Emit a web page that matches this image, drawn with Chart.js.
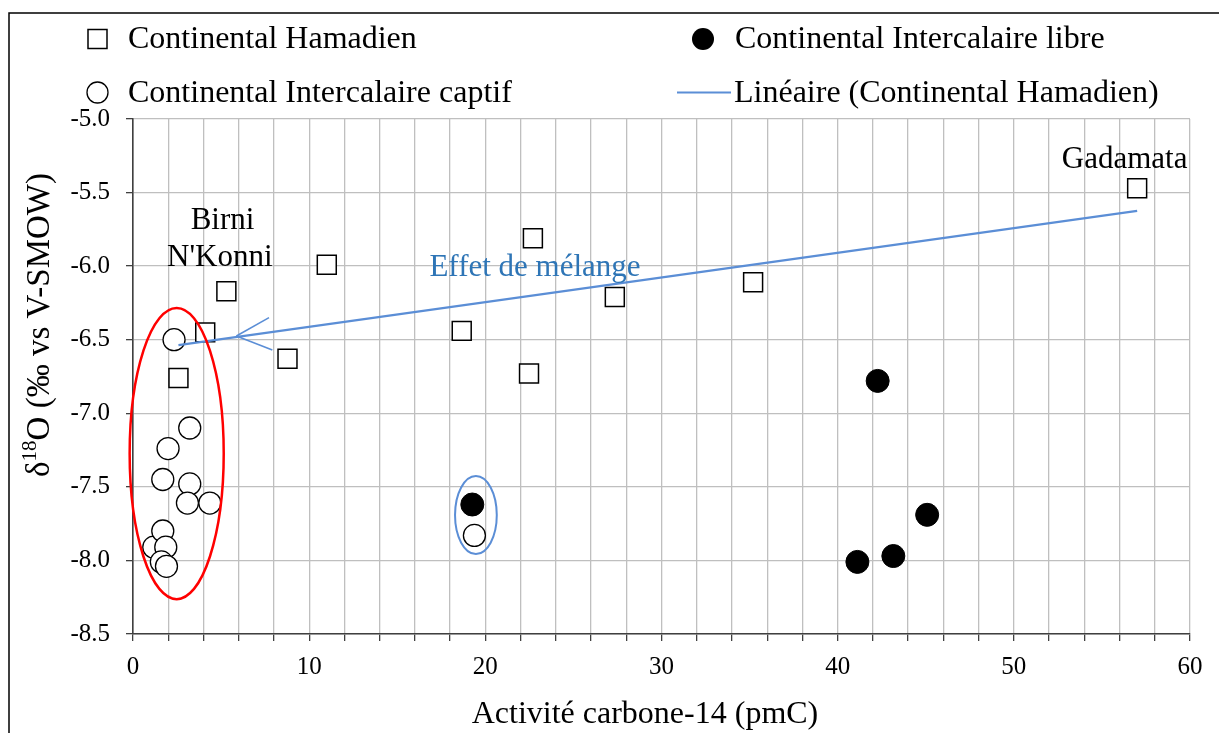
<!DOCTYPE html>
<html>
<head>
<meta charset="utf-8">
<script src="https://cdn.jsdelivr.net/npm/chart.js@4.4.1/dist/chart.umd.min.js"></script>
<style>
  html, body { margin: 0; padding: 0; background: #fff; }
  #wrap { width: 1219px; height: 733px; position: relative; }
</style>
</head>
<body>
<div id="wrap"><canvas id="chart"></canvas></div>
<script>
// values
const hamadienX = [57.0, 22.7, 11.0, 5.3, 27.35, 35.2, 4.1, 18.66, 8.77, 2.58, 22.48];
const hamadienY = [-5.47, -5.81, -5.99, -6.17, -6.21, -6.11, -6.45, -6.44, -6.63, -6.76, -6.73];

const captifX = [2.33, 3.22, 1.99, 1.69, 3.22, 3.09, 4.36, 1.18, 1.69, 1.86, 1.61, 1.90, 19.38];
const captifY = [-6.50, -7.10, -7.24, -7.45, -7.48, -7.61, -7.61, -7.91, -7.80, -7.91, -8.01, -8.04, -7.83];

const libreX = [19.26, 42.27, 45.08, 43.16, 41.12];
const libreY = [-7.62, -6.78, -7.69, -7.97, -8.01];

const seriesNames = [
    "Continental Hamadien",
    "Continental Intercalaire libre",
    "Continental Intercalaire captif",
    "Linéaire (Continental Hamadien)"
];

const xTitle = "Activité carbone-14 (pmC)";
const X_MIN = 0, X_MAX = 60, X_STEP = 2, X_LABEL_EVERY = 10;
const Y_MIN = -8.5, Y_MAX = -5.0, Y_STEP = 0.5;

// annotations, in data units
const textNotes = [
    { text: "Birni", x: 5.08, y: -5.75, color: "#000" },
    { text: "N'Konni", x: 4.93, y: -6.0, color: "#000" },
    { text: "Gadamata", x: 56.29, y: -5.335, color: "#000" },
    { text: "Effet de mélange", x: 22.82, y: -6.068, color: "#2E75B6" }
];
const redEllipse = { x0: -0.19, x1: 5.15, y0: -6.285, y1: -8.263 };
const blueEllipse = { x0: 18.28, x1: 20.65, y0: -7.426, y1: -7.957 };
const arrowTip = [5.87, -6.475];
const arrowEnds = [[7.72, -6.35], [7.91, -6.57]];

const FONT = '"Liberation Serif", "Times New Roman", serif';
const TREND_BLUE = "#5B8ED6";

function toPoints(xs, ys) {
    return xs.map((x, i) => ({ x: x, y: ys[i] }));
}

// least squares trend on the Hamadien points
function linearFit(xs, ys) {
    const n = xs.length;
    const mx = xs.reduce((a, b) => a + b, 0) / n;
    const my = ys.reduce((a, b) => a + b, 0) / n;
    let sxy = 0, sxx = 0;
    for (let i = 0; i < n; i++) {
        sxy += (xs[i] - mx) * (ys[i] - my);
        sxx += (xs[i] - mx) * (xs[i] - mx);
    }
    const slope = sxy / sxx;
    return { slope: slope, intercept: my - slope * mx };
}

const fit = linearFit(hamadienX, hamadienY);
const trendX = [Math.min(...hamadienX), Math.max(...hamadienX)];
const trendPoints = trendX.map(x => ({ x: x, y: fit.intercept + fit.slope * x }));

function ellipse(ctx, xs, ys, e, color, width) {
    const px0 = xs.getPixelForValue(e.x0), px1 = xs.getPixelForValue(e.x1);
    const py0 = ys.getPixelForValue(e.y0), py1 = ys.getPixelForValue(e.y1);
    ctx.save();
    ctx.strokeStyle = color;
    ctx.lineWidth = width;
    ctx.beginPath();
    ctx.ellipse((px0 + px1) / 2, (py0 + py1) / 2, Math.abs(px1 - px0) / 2, Math.abs(py1 - py0) / 2, 0, 0, Math.PI * 2);
    ctx.stroke();
    ctx.restore();
}

const notesPlugin = {
    id: "notes",
    afterDatasetsDraw(chart) {
        const ctx = chart.ctx;
        const xs = chart.scales.x, ys = chart.scales.y;

        ellipse(ctx, xs, ys, redEllipse, "#FF0000", 2.5);
        ellipse(ctx, xs, ys, blueEllipse, TREND_BLUE, 2);

        ctx.save();
        ctx.strokeStyle = TREND_BLUE;
        ctx.lineWidth = 1.6;
        const tx = xs.getPixelForValue(arrowTip[0]), ty = ys.getPixelForValue(arrowTip[1]);
        arrowEnds.forEach(e => {
            ctx.beginPath();
            ctx.moveTo(tx, ty);
            ctx.lineTo(xs.getPixelForValue(e[0]), ys.getPixelForValue(e[1]));
            ctx.stroke();
        });
        ctx.restore();

        ctx.save();
        ctx.font = "31px " + FONT;
        ctx.textAlign = "center";
        ctx.textBaseline = "alphabetic";
        textNotes.forEach(n => {
            ctx.fillStyle = n.color;
            ctx.fillText(n.text, xs.getPixelForValue(n.x), ys.getPixelForValue(n.y));
        });
        ctx.restore();
    },
    afterDraw(chart) {
        const ctx = chart.ctx;

        // outer frame (left and top only are visible in the crop)
        ctx.save();
        ctx.strokeStyle = "#000";
        ctx.lineWidth = 1.5;
        ctx.beginPath();
        ctx.moveTo(9, 733);
        ctx.lineTo(9, 13);
        ctx.lineTo(1219, 13);
        ctx.stroke();
        ctx.restore();

        // legend
        ctx.save();
        ctx.font = "32px " + FONT;
        ctx.textAlign = "left";
        ctx.textBaseline = "alphabetic";
        const rows = [39, 92.5];
        const cols = [97.5, 703];

        ctx.lineWidth = 1.5;
        ctx.strokeStyle = "#000";
        ctx.fillStyle = "#fff";
        ctx.fillRect(cols[0] - 9.5, rows[0] - 9.5, 19, 19);
        ctx.strokeRect(cols[0] - 9.5, rows[0] - 9.5, 19, 19);

        ctx.beginPath();
        ctx.arc(cols[1], rows[0], 11, 0, Math.PI * 2);
        ctx.fillStyle = "#000";
        ctx.fill();

        ctx.beginPath();
        ctx.arc(cols[0], rows[1], 10.5, 0, Math.PI * 2);
        ctx.fillStyle = "#fff";
        ctx.fill();
        ctx.lineWidth = 1.3;
        ctx.stroke();

        ctx.strokeStyle = TREND_BLUE;
        ctx.lineWidth = 2;
        ctx.beginPath();
        ctx.moveTo(677, rows[1]);
        ctx.lineTo(731, rows[1]);
        ctx.stroke();

        ctx.fillStyle = "#000";
        ctx.fillText(seriesNames[0], 128, 48);
        ctx.fillText(seriesNames[1], 735, 48);
        ctx.fillText(seriesNames[2], 128, 102);
        ctx.fillText(seriesNames[3], 734, 102);
        ctx.restore();

        // x axis title
        ctx.save();
        ctx.font = "32px " + FONT;
        ctx.fillStyle = "#000";
        ctx.textAlign = "center";
        ctx.textBaseline = "alphabetic";
        ctx.fillText(xTitle, 645, 723);
        ctx.restore();

        // y axis title with superscript 18
        ctx.save();
        ctx.translate(49, 325);
        ctx.rotate(-Math.PI / 2);
        const big = "33px " + FONT, small = "21px " + FONT;
        const parts = [["δ", big, 0], ["18", small, -13], ["O (‰ vs V-SMOW)", big, 0]];
        let total = 0;
        parts.forEach(p => { ctx.font = p[1]; total += ctx.measureText(p[0]).width; });
        let cx = -total / 2;
        ctx.fillStyle = "#000";
        ctx.textAlign = "left";
        ctx.textBaseline = "alphabetic";
        parts.forEach(p => {
            ctx.font = p[1];
            ctx.fillText(p[0], cx, p[2]);
            cx += ctx.measureText(p[0]).width;
        });
        ctx.restore();
    }
};

const ctx = document.getElementById("chart").getContext("2d");

new Chart(ctx, {
    type: "scatter",
    data: {
        datasets: [
            {
                type: "line",
                label: seriesNames[3],
                data: trendPoints,
                borderColor: TREND_BLUE,
                borderWidth: 2.2,
                pointRadius: 0,
                fill: false,
                order: 0
            },
            {
                label: seriesNames[1],
                data: toPoints(libreX, libreY),
                pointStyle: "circle",
                pointRadius: 11.5,
                backgroundColor: "#000",
                borderColor: "#000",
                borderWidth: 1,
                order: 1
            },
            {
                label: seriesNames[2],
                data: toPoints(captifX, captifY),
                pointStyle: "circle",
                pointRadius: 11,
                backgroundColor: "#fff",
                borderColor: "#000",
                borderWidth: 1.3,
                order: 2
            },
            {
                label: seriesNames[0],
                data: toPoints(hamadienX, hamadienY),
                pointStyle: "rect",
                pointRadius: 13.4,
                backgroundColor: "#fff",
                borderColor: "#000",
                borderWidth: 1.5,
                order: 3
            }
        ]
    },
    options: {
        responsive: true,
        maintainAspectRatio: false,
        animation: false,
        events: [],
        layout: { padding: { left: 0, right: 29, top: 119, bottom: 0 } },
        plugins: {
            legend: { display: false },
            tooltip: { enabled: false }
        },
        scales: {
            x: {
                type: "linear",
                min: X_MIN,
                max: X_MAX,
                afterFit(scale) { scale.height = 99; },
                ticks: {
                    stepSize: X_STEP,
                    autoSkip: false,
                    maxRotation: 0,
                    padding: 11,
                    color: "#000",
                    font: { family: FONT, size: 25 },
                    callback: v => (v % X_LABEL_EVERY === 0 ? String(v) : "")
                },
                grid: {
                    color: "#BFBFBF",
                    lineWidth: 1.3,
                    tickColor: "#404040",
                    tickLength: 7
                },
                border: { color: "#404040", width: 1.6 }
            },
            y: {
                type: "linear",
                min: Y_MIN,
                max: Y_MAX,
                afterFit(scale) { scale.width = 133; },
                ticks: {
                    stepSize: Y_STEP,
                    padding: 16,
                    color: "#000",
                    font: { family: FONT, size: 25 },
                    callback: v => v.toFixed(1)
                },
                grid: {
                    color: "#BFBFBF",
                    lineWidth: 1.3,
                    tickColor: "#404040",
                    tickLength: 7
                },
                border: { color: "#404040", width: 1.6 }
            }
        }
    },
    plugins: [notesPlugin]
});
</script>
</body>
</html>
